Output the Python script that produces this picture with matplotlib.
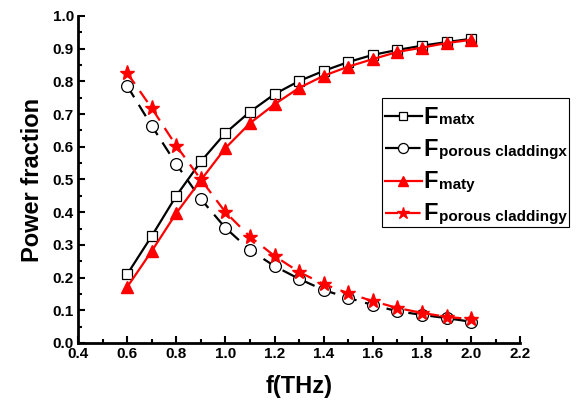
import numpy as np
import matplotlib
matplotlib.use('Agg')
import matplotlib.pyplot as plt
from matplotlib.patches import Rectangle
from matplotlib.ticker import MultipleLocator

plt.rcParams['font.family'] = ['Liberation Sans', 'DejaVu Sans']
plt.rcParams['font.weight'] = 'bold'

freq = [0.6, 0.7, 0.8, 0.9, 1.0, 1.1, 1.2, 1.3, 1.4, 1.5, 1.6, 1.7, 1.8, 1.9, 2.0]
f_matx = [0.21, 0.327, 0.45, 0.555, 0.642, 0.707, 0.761, 0.801, 0.832, 0.859, 0.881,
          0.896, 0.909, 0.92, 0.93]
f_porx = [0.786, 0.664, 0.547, 0.44, 0.352, 0.284, 0.235, 0.196, 0.162, 0.138, 0.116,
          0.097, 0.086, 0.076, 0.065]
f_maty = [0.171, 0.281, 0.397, 0.498, 0.596, 0.672, 0.73, 0.78, 0.817, 0.845, 0.868,
          0.89, 0.903, 0.917, 0.927]
f_pory = [0.826, 0.718, 0.603, 0.50, 0.40, 0.325, 0.266, 0.217, 0.18, 0.152, 0.128,
          0.107, 0.092, 0.08, 0.073]

subs = ['matx', 'porous claddingx', 'maty', 'porous claddingy']

fig = plt.figure(figsize=(5.78, 4.09), dpi=100)
ax = fig.add_axes([0.135, 0.1614, 0.765, 0.7996])

l1, = ax.plot(freq, f_matx, '-', color='black', lw=1.6, marker='s', ms=7.5,
              mfc='white', mec='black', mew=0.9)
l2, = ax.plot(freq, f_porx, '--', color='black', lw=1.6, marker='o', ms=8.5,
              mfc='white', mec='black', mew=0.9, dashes=(6, 4))
l3, = ax.plot(freq, f_maty, '-', color='red', lw=1.6, marker='^', ms=9,
              mfc='red', mec='red')
l4, = ax.plot(freq, f_pory, '--', color='red', lw=1.6, marker='*', ms=11,
              mfc='red', mec='red', dashes=(6, 4))

ax.set_xlim(0.4, 2.2)
ax.set_ylim(0.0, 1.0)
ax.xaxis.set_major_locator(MultipleLocator(0.2))
ax.xaxis.set_minor_locator(MultipleLocator(0.1))
ax.yaxis.set_major_locator(MultipleLocator(0.1))
ax.yaxis.set_minor_locator(MultipleLocator(0.05))
ax.xaxis.set_major_formatter(plt.FuncFormatter(lambda v, p: f'{v:.1f}'))
ax.yaxis.set_major_formatter(plt.FuncFormatter(lambda v, p: f'{v:.1f}'))
ax.tick_params(which='major', direction='in', length=5, width=1.5, labelsize=11, pad=3)
ax.tick_params(which='minor', direction='in', length=3, width=1.5)
ax.spines['top'].set_visible(False)
ax.spines['right'].set_visible(False)
ax.spines['left'].set_linewidth(2)
ax.spines['bottom'].set_linewidth(2)

ax.set_xlabel('f(THz)', fontsize=17, fontweight='bold', labelpad=10)
ax.set_ylabel('Power fraction', fontsize=17, fontweight='bold', labelpad=6)

# legend box drawn by hand so its padding can differ across/down
fig.add_artist(Rectangle((0.661, 0.445), 0.323, 0.315, transform=fig.transFigure,
                         facecolor='white', edgecolor='black', lw=0.8, zorder=4))

# legend labels are the small subscripts; the big "F" is put in front of each
leg = fig.legend([l1, l2, l3, l4], subs, loc='upper left',
                 bbox_to_anchor=(0.666, 0.736), bbox_transform=fig.transFigure,
                 borderaxespad=0, prop={'size': 11, 'weight': 'bold'},
                 frameon=False, handlelength=2.4, handleheight=1.9,
                 handletextpad=1.12, labelspacing=0.63, borderpad=0,
                 markerscale=0.85)
leg.set_zorder(5)
for txt in leg.get_texts():
    fig.add_artist(plt.Annotation('F', xy=(0, 0), xycoords=txt, xytext=(-10.8, 2.5),
                                  textcoords='offset points', fontsize=17,
                                  fontweight='bold', va='baseline', ha='left',
                                  zorder=10))

fig.savefig('out.png', dpi=100)
